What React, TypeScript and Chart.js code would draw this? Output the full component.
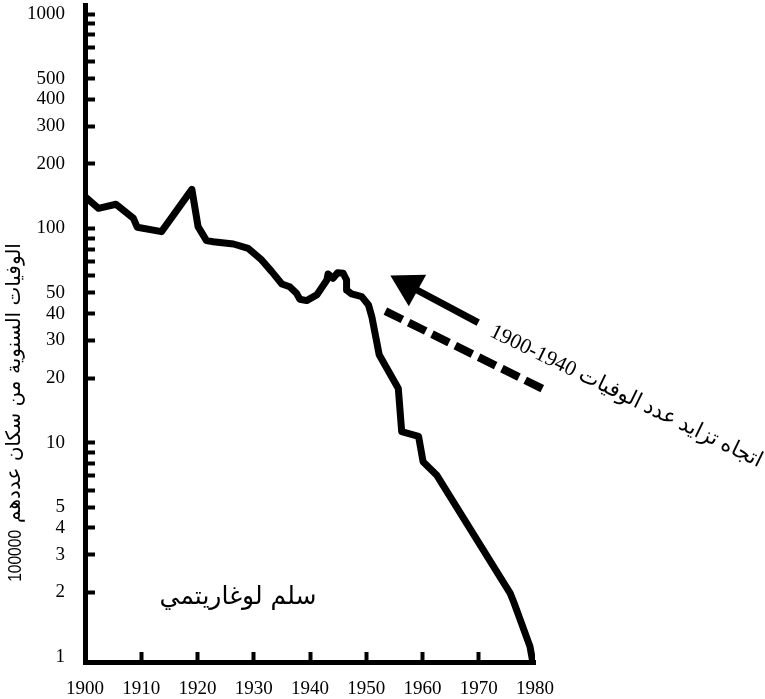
import React, { useEffect, useRef } from 'react';
import { Chart, registerables } from 'chart.js';

Chart.register(...registerables);

// Main series: annual deaths per 100000 population (log scale)
const years = [1900, 1902.4, 1905.5, 1908.6, 1909.3, 1913.6, 1919.0, 1920.1, 1921.6, 1922.8, 1926.4, 1929.0, 1931.4, 1933.2, 1935.0, 1936.4, 1937.6, 1938.2, 1939.4, 1941.2, 1943.0, 1943.2, 1944.1, 1944.9, 1945.9, 1946.5, 1946.5, 1947.4, 1949.2, 1950.4, 1951.0, 1952.3, 1955.7, 1956.3, 1959.3, 1960.1, 1962.5, 1975.6, 1976.3, 1979.1, 1979.6];
const deaths = [140.5, 124, 129.5, 111.4, 101.1, 96.5, 152, 101.8, 87.6, 86.6, 84.5, 80.7, 71.2, 62.8, 55.0, 53.4, 49.8, 46.7, 46.0, 48.9, 57.4, 61.2, 58.5, 62.1, 61.7, 57.4, 51.6, 49.4, 48.0, 43.9, 38.6, 25.7, 17.9, 11.25, 10.7, 8.15, 7.07, 1.98, 1.78, 1.12, 0.95];

// Trend (dashed) line and arrow
const trendYears = [1953.4, 1981.6];
const trendValues = [41.1, 17.7];
const arrowYears = [1969.9, 1957.5];
const arrowValues = [36.3, 54.1];
const arrowHeadYear = [1957.5];
const arrowHeadValue = [54.1];

// Axis ticks
const xTicks = [1900, 1910, 1920, 1930, 1940, 1950, 1960, 1970, 1980];
const yTicks = [1, 2, 3, 4, 5, 6, 7, 8, 9, 10, 20, 30, 40, 50, 60, 70, 80, 90, 100, 200, 300, 400, 500, 600, 700, 800, 900, 1000];
const yLabels = [1, 2, 3, 4, 5, 10, 20, 30, 40, 50, 100, 200, 300, 400, 500, 1000];

// Texts
const yTitleText = 'الوفيات السنوية من سكان عددهم';
const yTitleNumber = '100000';
const scaleNote = 'سلم لوغاريتمي';
const trendNote = 'اتجاه تزايد عدد الوفيات \u20661900-1940\u2069';

const notesPlugin = {
  id: 'notes',
  afterDatasetsDraw(chart: any) {
    const { ctx, scales } = chart;
    const x = scales.x;
    const y = scales.y;
    ctx.save();
    ctx.fillStyle = '#000';
    ctx.textBaseline = 'middle';

    // log-scale note
    ctx.direction = 'rtl';
    ctx.textAlign = 'center';
    ctx.font = '25px "DejaVu Sans"';
    ctx.fillText(scaleNote, x.getPixelForValue(1927.2), y.getPixelForValue(1.9));

    // trend note
    ctx.save();
    ctx.translate(x.getPixelForValue(1996.2), y.getPixelForValue(16.4));
    ctx.rotate((26 * Math.PI) / 180);
    ctx.font = '21.5px "Liberation Serif", "DejaVu Sans"';
    ctx.fillText(trendNote, 0, 0);
    ctx.restore();

    // y-axis title (rotated, reading bottom to top)
    ctx.save();
    ctx.translate(y.left + 15, y.getPixelForValue(2.24));
    ctx.rotate(-Math.PI / 2);
    ctx.save();
    ctx.scale(0.82, 1);
    ctx.direction = 'ltr';
    ctx.textAlign = 'left';
    ctx.font = '19px "Liberation Sans"';
    const numW = ctx.measureText(yTitleNumber).width * 0.82;
    ctx.fillText(yTitleNumber, 0, 1);
    ctx.restore();
    ctx.direction = 'rtl';
    ctx.textAlign = 'left';
    ctx.font = '20px "DejaVu Sans"';
    ctx.fillText(yTitleText, numW + 7, 0);
    ctx.restore();

    ctx.restore();
  },
};

export default function App() {
  const ref = useRef<HTMLCanvasElement | null>(null);

  useEffect(() => {
    if (!ref.current) return;
    const tickFont = { family: '"Liberation Serif", "Times New Roman", serif', size: 19 };
    const chart = new Chart(ref.current, {
      type: 'line',
      data: {
        datasets: [
          {
            data: years.map((yr, i) => ({ x: yr, y: deaths[i] })),
            borderColor: '#000',
            borderWidth: 7,
            borderJoinStyle: 'round',
            pointRadius: 0,
            tension: 0,
            fill: false,
          },
          {
            data: trendYears.map((yr, i) => ({ x: yr, y: trendValues[i] })),
            borderColor: '#000',
            borderWidth: 8,
            borderDash: [19, 7],
            pointRadius: 0,
            fill: false,
            clip: false,
          },
          {
            data: arrowYears.map((yr, i) => ({ x: yr, y: arrowValues[i] })),
            borderColor: '#000',
            borderWidth: 7,
            pointRadius: 0,
            fill: false,
            clip: false,
          },
          {
            data: arrowHeadYear.map((yr, i) => ({ x: yr, y: arrowHeadValue[i] })),
            showLine: false,
            pointStyle: 'triangle',
            pointRadius: 20.7,
            pointRotation: -61,
            pointBackgroundColor: '#000',
            pointBorderColor: '#000',
            pointBorderWidth: 0,
            clip: false,
          },
        ] as any,
      },
      options: {
        animation: false,
        responsive: false,
        events: [],
        layout: { autoPadding: false, padding: { top: 5, right: 230, left: 0, bottom: 0 } },
        plugins: { legend: { display: false }, tooltip: { enabled: false } },
        scales: {
          x: {
            type: 'linear',
            min: 1900,
            max: 1980,
            afterBuildTicks: (s: any) => {
              s.ticks = xTicks.map((v) => ({ value: v }));
            },
            afterFit: (s: any) => {
              s.height = 37;
              s.paddingLeft = 0;
              s.paddingRight = 0;
            },
            ticks: {
              autoSkip: false,
              maxRotation: 0,
              padding: 26,
              color: '#000',
              font: tickFont,
              callback: (v: any) => String(v),
            },
            grid: {
              drawOnChartArea: false,
              drawTicks: true,
              tickLength: -10,
              tickWidth: 4,
              tickColor: (c: any) =>
                c.tick && (c.tick.value === 1900 || c.tick.value === 1980) ? 'rgba(0,0,0,0)' : '#000',
            },
            border: { display: true, width: 5, color: '#000' },
          },
          y: {
            type: 'logarithmic',
            min: 0.947,
            max: 1102,
            afterBuildTicks: (s: any) => {
              s.ticks = yTicks.map((v) => ({ value: v }));
            },
            afterFit: (s: any) => {
              s.width = 85;
              s.paddingTop = 0;
              s.paddingBottom = 0;
            },
            ticks: {
              autoSkip: false,
              padding: 30,
              color: '#000',
              font: tickFont,
              callback: (v: any) => (yLabels.includes(Number(v)) ? String(v) : ''),
            },
            grid: {
              drawOnChartArea: false,
              drawTicks: true,
              tickLength: -10,
              tickWidth: 4,
              tickColor: (c: any) => (c.tick && c.tick.value === 1 ? 'rgba(0,0,0,0)' : '#000'),
            },
            border: { display: true, width: 5, color: '#000' },
          },
        },
      } as any,
      plugins: [notesPlugin],
    });
    return () => chart.destroy();
  }, []);

  return (
    <div style={{ position: 'fixed', left: 0, top: 0, width: 765, height: 699, background: '#fff' }}>
      <canvas ref={ref} width={765} height={699} style={{ display: 'block' }} />
    </div>
  );
}
